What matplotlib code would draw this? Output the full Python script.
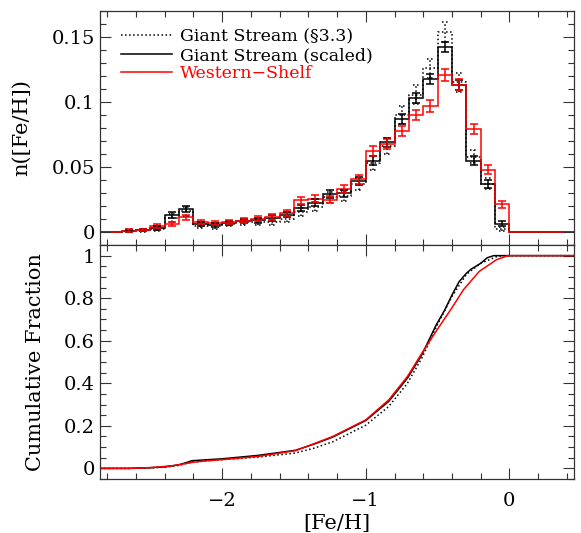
import numpy as np
import matplotlib
matplotlib.use("Agg")
import matplotlib.pyplot as plt
from matplotlib.lines import Line2D
from matplotlib.ticker import MultipleLocator, FuncFormatter

plt.rcParams['font.family'] = ['DejaVu Serif']
plt.rcParams['mathtext.fontset'] = 'dejavuserif'

# histogram bins ([Fe/H] bin centres, width 0.1)
feh_centers = [-2.65, -2.55, -2.45, -2.35, -2.25, -2.15, -2.05, -1.95, -1.85,
               -1.75, -1.65, -1.55, -1.45, -1.35, -1.25, -1.15, -1.05, -0.95,
               -0.85, -0.75, -0.65, -0.55, -0.45, -0.35, -0.25, -0.15, -0.05]

# Giant Stream (sec 3.3)
gs_n = [0.0010, 0.0015, 0.0025, 0.0110, 0.0160, 0.0050, 0.0045, 0.0065, 0.0080,
        0.0075, 0.0075, 0.0100, 0.0152, 0.0194, 0.0266, 0.0276, 0.0367, 0.0530,
        0.0660, 0.0900, 0.1057, 0.1260, 0.1540, 0.1150, 0.0580, 0.0370, 0.0020]
gs_err = [0.0010, 0.0012, 0.0016, 0.0030, 0.0035, 0.0020, 0.0019, 0.0021, 0.0023,
          0.0022, 0.0022, 0.0026, 0.0031, 0.0034, 0.0039, 0.0040, 0.0046, 0.0055,
          0.0060, 0.0066, 0.0071, 0.0074, 0.0078, 0.0070, 0.0050, 0.0042, 0.0015]

# Giant Stream (scaled)
gss_n = [0.0010, 0.0015, 0.0030, 0.0130, 0.0178, 0.0064, 0.0057, 0.0070, 0.0085,
         0.0090, 0.0108, 0.0134, 0.0186, 0.0225, 0.0290, 0.0297, 0.0392, 0.0547,
         0.0690, 0.0870, 0.1030, 0.1180, 0.1426, 0.1130, 0.0550, 0.0367, 0.0064]
gss_err = [0.0008, 0.0010, 0.0013, 0.0022, 0.0025, 0.0016, 0.0015, 0.0016, 0.0018,
           0.0018, 0.0020, 0.0022, 0.0025, 0.0027, 0.0030, 0.0030, 0.0032, 0.0035,
           0.0036, 0.0037, 0.0038, 0.0038, 0.0038, 0.0036, 0.0033, 0.0030, 0.0018]

# Western Shelf
ws_n = [0.0010, 0.0015, 0.0049, 0.0062, 0.0113, 0.0075, 0.0070, 0.0078, 0.0088,
        0.0103, 0.0116, 0.0147, 0.0245, 0.0256, 0.0250, 0.0328, 0.0405, 0.0625,
        0.0680, 0.0777, 0.0900, 0.0970, 0.1206, 0.1134, 0.0793, 0.0480, 0.0212]
ws_err = [0.0010, 0.0010, 0.0015, 0.0016, 0.0020, 0.0017, 0.0017, 0.0017, 0.0018,
          0.0019, 0.0020, 0.0022, 0.0026, 0.0027, 0.0027, 0.0030, 0.0032, 0.0037,
          0.0038, 0.0040, 0.0042, 0.0044, 0.0046, 0.0045, 0.0040, 0.0034, 0.0030]

# cumulative fractions
cum_gs_x = [-2.85, -2.65, -2.50, -2.40, -2.30, -2.21, -2.00, -1.75, -1.49, -1.36,
            -1.23, -1.00, -0.84, -0.71, -0.61, -0.51, -0.40, -0.30, -0.20, -0.09,
            -0.05, 0.45]
cum_gs = [0.0, 0.0, 0.002, 0.006, 0.014, 0.030, 0.041, 0.053, 0.072, 0.095,
          0.125, 0.203, 0.291, 0.400, 0.518, 0.664, 0.808, 0.912, 0.964, 0.995,
          1.0, 1.0]

cum_gss_x = [-2.85, -2.65, -2.50, -2.40, -2.30, -2.25, -2.21, -2.00, -1.75, -1.49,
             -1.36, -1.23, -1.00, -0.84, -0.71, -0.61, -0.51, -0.45, -0.40, -0.35,
             -0.30, -0.27, -0.20, -0.155, -0.11, 0.45]
cum_gss = [0.0, 0.0, 0.003, 0.007, 0.017, 0.027, 0.036, 0.045, 0.061, 0.085,
           0.114, 0.147, 0.225, 0.315, 0.424, 0.534, 0.674, 0.745, 0.815, 0.878,
           0.917, 0.935, 0.964, 0.990, 1.0, 1.0]

cum_ws_x = [-2.85, -2.65, -2.55, -2.47, -2.34, -2.21, -2.10, -2.00, -1.75, -1.49,
            -1.36, -1.23, -1.00, -0.84, -0.71, -0.61, -0.51, -0.40, -0.32, -0.21,
            -0.09, -0.01, 0.45]
cum_ws = [0.0, 0.0, 0.002, 0.005, 0.0125, 0.028, 0.036, 0.041, 0.056, 0.083,
          0.116, 0.150, 0.228, 0.322, 0.432, 0.541, 0.645, 0.755, 0.840, 0.926,
          0.981, 1.0, 1.0]

RED = '#ff0000'
LW = 1.1

fig = plt.figure(figsize=(5.81, 5.33), dpi=100)
ax1 = fig.add_axes([0.1721, 0.5403, 0.816, 0.4391])
ax2 = fig.add_axes([0.1721, 0.1013, 0.816, 0.4390], sharex=ax1)

centers = np.array(feh_centers)
edges = np.concatenate([[-2.9], centers - 0.05, [0.0, 0.5]])


def pad(v):
    return np.concatenate([[0.0], v, [0.0]])


def dotted_errors(ax, x, y, e, color='k'):
    x = np.asarray(x); y = np.asarray(y); e = np.asarray(e)
    ax.vlines(x, y - e, y + e, colors=color, linestyles=':', lw=LW)
    ax.hlines(y - e, x - 0.022, x + 0.022, colors=color, linestyles=':', lw=LW)
    ax.hlines(y + e, x - 0.022, x + 0.022, colors=color, linestyles=':', lw=LW)


# top panel: differential distributions
ax1.stairs(pad(gs_n), edges, color='k', ls=':', lw=LW)
dotted_errors(ax1, centers, gs_n, gs_err)
ax1.stairs(pad(gss_n), edges, color='k', lw=LW)
ax1.errorbar(centers, gss_n, yerr=gss_err, fmt='none', ecolor='k',
             elinewidth=LW, capsize=3, capthick=LW)
ax1.stairs(pad(ws_n), edges, color=RED, lw=LW)
ax1.errorbar(centers, ws_n, yerr=ws_err, fmt='none', ecolor=RED,
             elinewidth=LW, capsize=3, capthick=LW)

handles = [Line2D([], [], color='k', ls=':', lw=LW),
           Line2D([], [], color='k', lw=LW),
           Line2D([], [], color=RED, lw=LW)]
labels = ['Giant Stream (§3.3)', 'Giant Stream (scaled)', 'Western\u2212Shelf']
ax1.legend(handles, labels, loc='upper left', bbox_to_anchor=(0.045, 0.925),
           frameon=False, fontsize=12.5, handlelength=2.9, handletextpad=0.5,
           labelspacing=0.08, borderpad=0, borderaxespad=0,
           labelcolor=['k', 'k', RED])

ax1.set_ylim(-0.01, 0.17)
ax1.set_ylabel('n([Fe/H])', fontsize=15, labelpad=15)
ax1.yaxis.set_major_locator(MultipleLocator(0.05))
ax1.yaxis.set_minor_locator(MultipleLocator(0.01))
ax1.tick_params(labelbottom=False)

# bottom panel: cumulative
ax2.plot(cum_gs_x, cum_gs, color='k', ls=':', lw=LW)
ax2.plot(cum_gss_x, cum_gss, color='k', lw=LW)
ax2.plot(cum_ws_x, cum_ws, color=RED, lw=LW)
ax2.set_ylim(-0.05, 1.05)
ax2.set_ylabel('Cumulative Fraction', fontsize=15, labelpad=14)
ax2.set_xlabel('[Fe/H]', fontsize=15, labelpad=3)
ax2.yaxis.set_major_locator(MultipleLocator(0.2))
ax2.yaxis.set_minor_locator(MultipleLocator(0.05))

ax2.set_xlim(-2.85, 0.45)
fmt = FuncFormatter(lambda v, p: ('%g' % round(v, 3)).replace('-', '\u2212'))
for ax in (ax1, ax2):
    ax.xaxis.set_major_locator(MultipleLocator(1))
    ax.xaxis.set_minor_locator(MultipleLocator(0.2))
    ax.yaxis.set_major_formatter(fmt)
    ax.xaxis.set_major_formatter(fmt)
    ax.tick_params(which='both', direction='in', top=True, right=True,
                   labelsize=14, width=0.8, color='#333333')
    ax.tick_params(which='major', length=8)
    ax.tick_params(which='minor', length=4)
    ax.tick_params(axis='x', pad=9)
    for s in ax.spines.values():
        s.set_linewidth(0.9)
        s.set_color('#333333')

fig.savefig('out.png', dpi=100)
